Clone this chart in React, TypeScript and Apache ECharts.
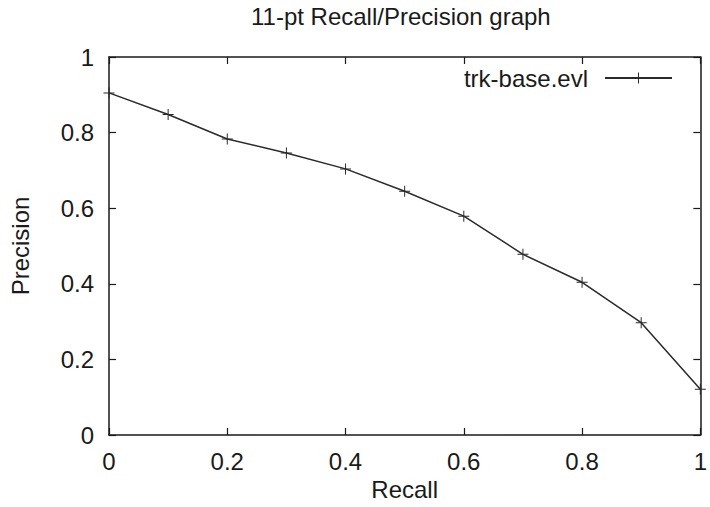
import React, { useEffect, useRef } from "react";
import * as echarts from "echarts";

const recall = [0, 0.1, 0.2, 0.3, 0.4, 0.5, 0.6, 0.7, 0.8, 0.9, 1.0];
const precision = [0.905, 0.848, 0.783, 0.746, 0.704, 0.645, 0.579, 0.478, 0.404, 0.297, 0.121];
const seriesName = "trk-base.evl";
const titleText = "11-pt Recall/Precision graph";
const xName = "Recall";
const yName = "Precision";

const FONT = "'Liberation Sans', Arial, Helvetica, sans-serif";
const INK = "#1a1a1a";
const PLUS = "path://M-1,-0.09H1V0.09H-1Z M-0.09,-1H0.09V1H-0.09Z";

export default function App() {
  const ref = useRef<HTMLDivElement>(null);
  useEffect(() => {
    document.body.style.margin = "0";
    if (!ref.current) return;
    const chart = echarts.init(ref.current, null, { renderer: "svg" });
    const axisCommon = {
      type: "value" as const,
      min: 0,
      max: 1,
      interval: 0.2,
      splitLine: { show: false },
      axisLine: { show: true, onZero: false, lineStyle: { color: INK, width: 1.5 } },
      axisTick: { show: true, inside: true, length: 7, lineStyle: { color: INK, width: 1.2 } },
    };
    chart.setOption({
      animation: false,
      backgroundColor: "#ffffff",
      textStyle: { fontFamily: FONT },
      title: {
        text: titleText,
        left: 246,
        top: -1,
        textStyle: { fontFamily: FONT, fontSize: 24, fontWeight: "normal", color: INK },
      },
      legend: {
        data: [seriesName],
        right: 32,
        top: 61,
        align: "right",
        itemWidth: 67,
        itemHeight: 14,
        textStyle: { fontFamily: FONT, fontSize: 24, color: INK, padding: [0, 12, 0, 0] },
      },
      grid: { left: 106, right: 6, top: 57, bottom: 72, containLabel: false },
      xAxis: [
        {
          ...axisCommon,
          position: "bottom",
          name: xName,
          nameLocation: "middle",
          nameGap: 33,
          nameTextStyle: { fontFamily: FONT, fontSize: 24, color: INK },
          axisLabel: { fontFamily: FONT, fontSize: 24, color: INK, margin: 14 },
        },
        {
          ...axisCommon,
          position: "top",
          axisLabel: { show: false },
        },
      ],
      yAxis: [
        {
          ...axisCommon,
          position: "left",
          name: yName,
          nameLocation: "middle",
          nameGap: 77,
          nameTextStyle: { fontFamily: FONT, fontSize: 24, color: INK },
          axisLabel: { fontFamily: FONT, fontSize: 24, color: INK, margin: 15 },
        },
        {
          ...axisCommon,
          position: "right",
          axisLabel: { show: false },
        },
      ],
      series: [
        {
          name: seriesName,
          type: "line",
          xAxisIndex: 0,
          yAxisIndex: 0,
          data: recall.map((r, i) => [r, precision[i]]),
          symbol: PLUS,
          symbolSize: 11,
          showSymbol: true,
          itemStyle: { color: "#2a2a2a" },
          lineStyle: { color: "#2a2a2a", width: 1.5 },
        },
      ],
    });
    return () => chart.dispose();
  }, []);
  return <div ref={ref} style={{ width: 710, height: 507 }} />;
}
